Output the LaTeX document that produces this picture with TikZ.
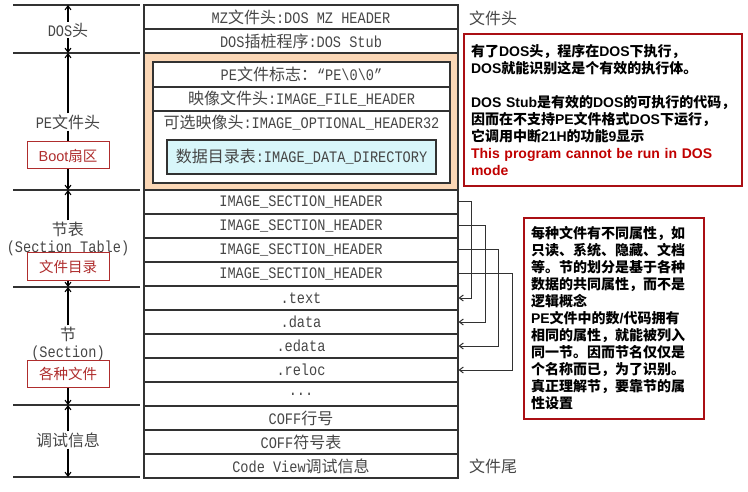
\documentclass[tikz,border=0pt]{standalone}
\usepackage{fontspec}
\setmainfont{Liberation Sans}
\newfontfamily\tabfont{Liberation Mono}[FakeStretch=0.85]
\newfontfamily\cjkfont{Noto Sans CJK SC}
\newcommand{\zh}[1]{{\cjkfont #1}}
\usetikzlibrary{arrows.meta}
\definecolor{LineGray}{RGB}{50,50,50}
\definecolor{TextGray}{RGB}{70,70,70}
\definecolor{Peach}{RGB}{251,215,182}
\definecolor{PaleCyan}{RGB}{216,246,250}
\definecolor{BoxRed}{RGB}{170,15,20}
\definecolor{NoteRed}{RGB}{192,0,0}
\definecolor{TagRed}{RGB}{175,45,45}

\begin{document}
\lineskiplimit=-100pt
\begin{tikzpicture}[x=1pt,y=-1pt,>={Straight Barb[length=4pt,width=6pt]},
  row/.style={draw=LineGray,line width=1.1pt,minimum width=314pt,minimum height=24pt,
    inner sep=0pt,text=TextGray,font=\fontsize{16}{18}\selectfont\tabfont},
  lab/.style={inner sep=1pt,align=center,text=TextGray,
    font=\fontsize{16}{17}\selectfont\tabfont},
  tag/.style={draw=TagRed,line width=1pt,fill=white,text=TagRed,minimum width=82pt,
    minimum height=27pt,inner sep=0pt,font=\fontsize{14.5}{16}\selectfont},
  note/.style={draw=BoxRed,line width=2pt,anchor=north west,align=left,inner xsep=8pt,
    font=\fontsize{14}{17}\selectfont\bfseries},
  conn/.style={->,draw=LineGray,line width=1pt}]
  \useasboundingbox (0,0) rectangle (748,492);
  \fill[Peach] (144,53) rectangle (458,190);
  \foreach \n/\y/\t in {mz/17/{MZ\zh{文件头}:DOS MZ HEADER},stub/41/{DOS\zh{插桩程序}:DOS Stub},
      sh1/202/{IMAGE\_SECTION\_HEADER},sh2/226/{IMAGE\_SECTION\_HEADER},
      sh3/250/{IMAGE\_SECTION\_HEADER},sh4/274/{IMAGE\_SECTION\_HEADER},
      text/298/{.text},data/322/{.data},edata/346/{.edata},reloc/370/{.reloc},
      more/394/{...},coffln/418/{COFF\zh{行号}},coffsym/442/{COFF\zh{符号表}},
      cview/466/{Code View\zh{调试信息}}}
    \node[row] (\n) at (301,\y) {\t};
  \node[draw=LineGray,line width=1.5pt,fill=white,minimum width=297pt,minimum height=121pt] (pebox) at (301.5,122.5) {};
  \node[row,minimum width=297pt,minimum height=25pt] (pesig) at (301.5,74.5) {PE\zh{文件标志：}“PE\textbackslash0\textbackslash0”};
  \node[row,minimum width=297pt] (filehdr) at (301.5,99) {\zh{映像文件头}:IMAGE\_FILE\_HEADER};
  \node[lab] (opthdr) at (301.5,123) {\zh{可选映像头}:IMAGE\_OPTIONAL\_HEADER32};
  \node[row,fill=PaleCyan,line width=1.3pt,minimum width=269pt,minimum height=34pt] (datadir) at (301.5,157) {\zh{数据目录表}:IMAGE\_DATA\_DIRECTORY};
  \draw[LineGray,line width=1.5pt] (144,5) rectangle (458,478);

  \foreach \i/\y in {0/5,1/53,2/190,3/287,4/405,5/477}{
    \draw[LineGray,line width=1.2pt] (13,\y) -- (140,\y);
    \coordinate (l\i) at (68,\y);
  }
  \node[lab] (doshd) at (68,30) {DOS\zh{头}};
  \node[lab] (pehd) at (68,122) {PE\zh{文件头}};
  \node[tag] (boot) at (68,155.5) {Boot\zh{扇区}};
  \node[lab] (sthd) at (68,238.5) {\zh{节表}\\(Section Table)};
  \node[tag,minimum height=28pt] (dir) at (68,267) {\zh{文件目录}};
  \node[lab] (secthd) at (68,343.5) {\zh{节}\\(Section)};
  \node[tag] (files) at (68,373.5) {\zh{各种文件}};
  \node[lab] (dbghd) at (68,440) {\zh{调试信息}};
  \draw[->,line width=1.1pt] (doshd) -- (l0);
  \draw[->,line width=1.1pt] (doshd) -- (l1);
  \draw[->,line width=1.1pt] (pehd) -- (l1);
  \draw[line width=1.1pt] (pehd) -- (boot);
  \draw[->,line width=1.1pt] (boot) -- (l2);
  \draw[->,line width=1.1pt] (sthd) -- (l2);
  \draw[->,line width=1.1pt] (dir) -- (l3);
  \draw[->,line width=1.1pt] (secthd) -- (l3);
  \draw[->,line width=1.1pt] (files) -- (l4);
  \draw[->,line width=1.1pt] (dbghd) -- (l4);
  \draw[->,line width=1.1pt] (dbghd) -- (l5);

  \draw[conn] (sh1.east) -- ++(13,0) |- (text.east);
  \draw[conn] (sh2.east) -- ++(27,0) |- (data.east);
  \draw[conn] (sh3.east) -- ++(40,0) |- (edata.east);
  \draw[conn] (sh4.east) -- ++(54,0) |- (reloc.east);

  \node[anchor=west,inner sep=0pt,text=TextGray,font=\fontsize{16}{18}\selectfont\cjkfont] (headlbl) at (469,18) {文件头};
  \node[anchor=west,inner sep=0pt,text=TextGray,font=\fontsize{16}{18}\selectfont\cjkfont] (taillbl) at (469,466) {文件尾};
  \node[note,inner xsep=7pt,minimum width=278pt,minimum height=152pt,text width=264pt] (stubnote) at (463,33) {%
    \zh{有了}DOS\zh{头，程序在}DOS\zh{下执行，}\\
    DOS\zh{就能识别这是个有效的执行体。}\\[17pt]
    \mbox{DOS Stub\zh{是有效的}DOS\zh{的可执行的代码，}}\\
    \zh{因而在不支持}PE\zh{文件格式}DOS\zh{下运行，}\\
    \zh{它调用中断}21H\zh{的功能}9\zh{显示}\\
    \textcolor{NoteRed}{This program cannot be run in DOS}\\
    \textcolor{NoteRed}{mode}};
  \node[note,inner xsep=7pt,minimum width=180pt,minimum height=201pt,text width=166pt] (sectnote) at (523,217) {%
    \zh{每种文件有不同属性，如}\\
    \zh{只读、系统、隐藏、文档}\\
    \zh{等。节的划分是基于各种}\\
    \zh{数据的共同属性，而不是}\\
    \zh{逻辑概念}\\
    PE\zh{文件中的数}/\zh{代码拥有}\\
    \zh{相同的属性，就能被列入}\\
    \zh{同一节。因而节名仅仅是}\\
    \zh{个名称而已，为了识别。}\\
    \zh{真正理解节，要靠节的属}\\
    \zh{性设置}};
\end{tikzpicture}
\end{document}
